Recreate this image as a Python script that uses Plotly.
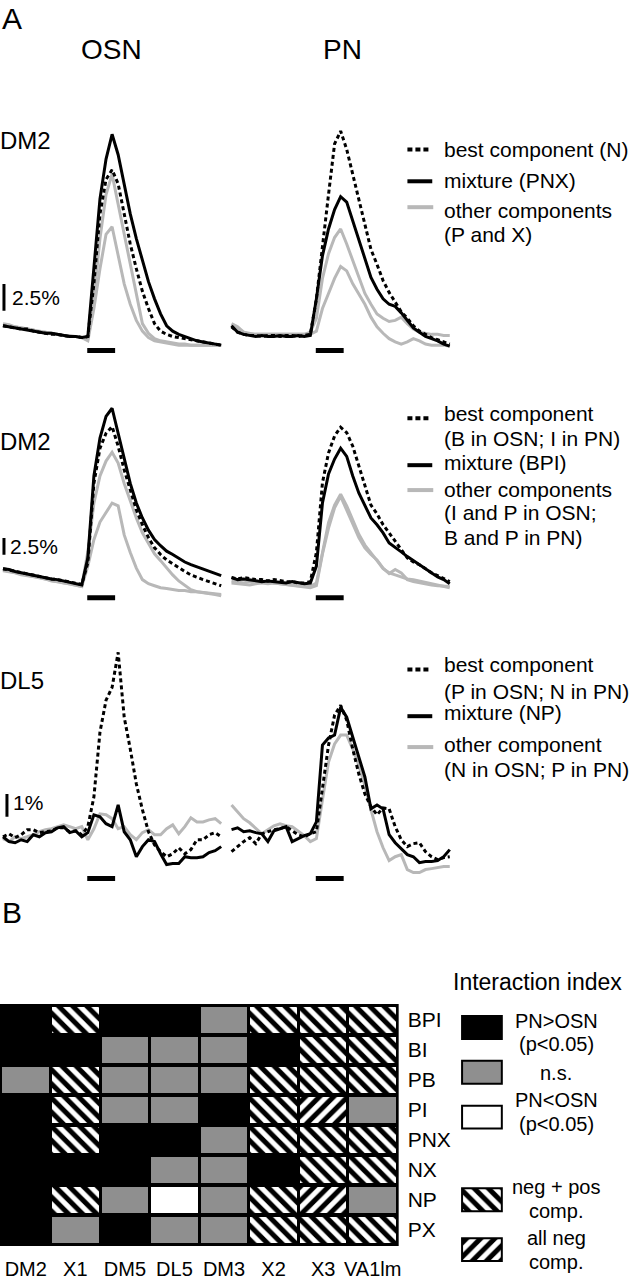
import plotly.graph_objects as go

W, H = 635, 1280
FONT = "Liberation Sans, Arial, Helvetica, sans-serif"

# ---------------- DATA ----------------
frames = list(range(37))          # imaging frames
stim_on, stim_off = 13.9, 18.5    # odor stimulus (frames)
scale_pct = [2.5, 2.5, 1.0]       # scale bars per row (% dF/F)

# Row 1: DM2, mixture PNX
osn1_mix = [1.2,1.1,1.0,0.9,0.8,0.7,0.6,0.5,0.5,0.4,0.3,0.2,0.2,0.1, 0.2,6.5,13.0,16.7,19.0, 17.1,14.4,11.6,9.3,7.2, 5.3,3.7,2.3,1.2,0.7, 0.4,0.2,0.0,-0.2,-0.3, -0.4,-0.5,-0.6]
osn1_best = [1.2,1.1,1.0,0.9,0.9,0.7,0.6,0.5,0.4,0.4,0.3,0.2,0.2,0.1, 0.2,5.1,11.6,14.8,15.7, 14.4,11.6,8.8,6.5,4.4, 2.8,1.4,0.7,0.4,0.2, 0.1,0.0,-0.1,-0.2,-0.3, -0.4,-0.5,-0.6]
osn1_oth1 = [1.4,1.3,1.1,1.0,0.9,0.8,0.6,0.6,0.5,0.4,0.3,0.2,0.2,0.1, 0.0,3.7,9.3,13.4,15.3, 12.5,9.7,7.2,4.2,1.4, 0.5,0.0,-0.2,-0.3,-0.4, -0.5,-0.5,-0.6,-0.6,-0.6, -0.6,-0.6,-0.6]
osn1_oth2 = [1.3,1.2,1.1,1.0,0.9,0.8,0.7,0.6,0.5,0.4,0.3,0.3,0.2,0.1, -0.2,2.8,6.5,9.7,10.4, 7.9,5.1,3.2,1.7,0.7, 0.1,-0.2,-0.3,-0.4,-0.5, -0.6,-0.6,-0.6,-0.6,-0.6, -0.6,-0.6,-0.6]
pn1_best = [1.1,0.6,0.4,0.3,0.3,0.2,0.3,0.3,0.2,0.3,0.3,0.2,0.3,0.4, 3.7,8.3,13.4,18.1,19.3, 17.6,15.3,13.0,10.6,8.3, 6.9,5.4,4.3,3.4,2.5, 1.9,1.2,0.7,0.4,0.1, -0.1,-0.3,-0.5]
pn1_mix = [1.2,0.6,0.4,0.3,0.2,0.3,0.2,0.2,0.3,0.2,0.2,0.3,0.2,0.3, 3.7,7.7,10.2,12.0,13.2, 12.7,10.9,9.1,7.4,5.7, 4.6,3.7,3.2,3.0,2.4, 1.7,1.0,0.6,0.2,0.0, -0.2,-0.5,-0.7]
pn1_oth1 = [1.4,1.1,0.6,0.5,0.4,0.4,0.4,0.4,0.4,0.4,0.4,0.4,0.4,0.6, 1.9,5.6,7.9,9.4,10.2, 8.8,7.2,5.6,4.2,3.2, 2.3,1.9,1.6,1.7,2.0, 1.4,0.9,0.6,0.5,0.4, 0.4,0.3,0.3]
pn1_oth2 = [1.3,0.9,0.6,0.4,0.4,0.4,0.4,0.4,0.4,0.4,0.4,0.4,0.4,0.4, 0.7,2.8,4.2,5.6,6.7, 6.3,5.1,4.2,3.2,2.0, 1.1,0.5,0.0,-0.3,-0.5, -0.3,0.0,-0.2,-0.5,-0.6, -0.6,-0.6,-0.7]

# Row 2: DM2, mixture BPI
osn2_mix = [2.5,2.4,2.1,1.9,1.8,1.6,1.3,1.2,1.0,0.9,0.7,0.4,0.3,0.1, 4.1,16.2,21.8,25.0,26.2, 22.5,18.5,15.1,12.2,10.0, 8.2,6.8,5.9,5.1,4.6, 4.0,3.5,3.1,2.8,2.5, 2.2,1.9,1.5]
osn2_best = [2.5,2.3,2.1,2.0,1.8,1.6,1.4,1.2,1.0,0.9,0.7,0.5,0.3,0.2, 3.4,15.1,20.3,22.5,23.5, 20.6,17.1,14.0,11.2,9.0, 7.1,5.6,4.6,3.8,3.2, 2.6,2.1,1.6,1.2,0.9, 0.6,0.3,0.0]
osn2_oth1 = [2.2,2.1,1.9,1.6,1.5,1.3,1.2,1.0,0.7,0.6,0.4,0.3,0.0,-0.1, 5.0,12.2,16.2,18.4,19.7, 18.1,15.1,12.5,10.0,7.8, 6.2,4.7,3.7,2.6,1.6, 0.7,0.0,-0.6,-0.9,-1.0, -1.2,-1.3,-1.3]
osn2_oth2 = [2.3,2.1,1.9,1.7,1.5,1.3,1.2,1.0,0.8,0.6,0.4,0.3,0.1,-0.1, 2.9,6.8,9.4,10.9,12.2, 11.8,7.5,4.9,2.6,0.9, 0.3,0.0,-0.3,-0.4,-0.6, -0.7,-0.7,-0.9,-0.9,-1.0, -1.2,-1.3,-1.5]
pn2_best = [1.2,1.0,1.2,1.0,0.9,0.9,0.7,0.9,0.7,0.6,0.6,0.4,0.4,0.6, 4.9,15.2,19.6,22.1,23.4, 22.6,20.6,17.8,14.9,11.9, 10.6,9.0,7.8,6.6,5.3, 4.1,3.5,3.1,2.5,1.9, 1.5,1.0,0.6]
pn2_mix = [1.2,0.9,1.0,0.9,0.7,0.6,0.7,0.6,0.4,0.4,0.6,0.4,0.3,0.4, 2.9,12.2,16.5,18.7,20.3, 19.1,16.2,13.7,11.8,10.0, 9.0,7.8,6.3,5.7,5.0, 4.3,3.7,3.1,2.5,1.9, 1.3,0.9,0.3]
pn2_oth1 = [0.7,0.6,0.4,0.6,0.4,0.4,0.3,0.4,0.3,0.1,0.1,0.0,0.0,-0.1, 0.4,5.1,9.3,11.9,13.5, 11.8,9.6,7.6,6.0,4.9, 3.7,2.5,1.9,1.6,1.3, 1.0,0.9,0.7,0.4,0.3, 0.1,-0.1,-0.3]
pn2_oth2 = [0.4,0.3,0.3,0.1,0.3,0.4,0.6,0.4,0.3,0.1,0.0,0.0,-0.1,-0.3, 0.0,4.7,8.5,11.5,13.2, 11.2,9.0,7.1,5.6,4.6, 3.8,2.6,1.8,2.4,1.9, 0.9,0.6,0.4,0.3,0.1, 0.0,0.0,-0.1]

# Row 3: DL5, mixture NP
osn3_mix = [-0.22,-0.43,-0.48,-0.35,-0.43,-0.13,-0.22,-0.04,0.0,0.17,0.22,-0.04,0.04,-0.22, -0.04,0.74,0.65,0.35,0.22, 1.17,0.0,-0.35,-1.09,-0.65, -0.35,-0.43,-0.96,-1.43,-1.39, -1.39,-1.09,-1.13,-1.13,-1.09, -0.91,-0.83,-0.65]
osn3_best = [-0.22,-0.09,-0.26,-0.13,0.09,0.09,-0.04,0.0,0.04,0.17,0.17,0.0,0.04,-0.13, 0.22,1.52,4.35,5.74,6.3, 7.83,5.0,3.61,2.09,0.96, 0.0,-0.57,-0.87,-1.09,-0.96, -0.70,-0.96,-0.78,-0.35,-0.35, -0.13,-0.04,-0.22]
osn3_oth = [-0.30,-0.43,-0.22,-0.30,-0.22,-0.13,0.0,0.09,0.13,0.22,0.30,0.22,0.13,0.22, -0.35,0.13,0.78,0.74,0.57, 0.13,0.22,-0.13,-0.35,-0.04, 0.09,-0.13,-0.13,0.13,0.30, -0.09,0.22,0.61,0.43,0.43, 0.52,0.57,0.35]
pn3_mix = [0.09,0.17,0.0,0.04,-0.04,-0.09,-0.43,0.04,0.13,0.22,-0.43,-0.30,-0.17,-0.09, 0.43,3.78,4.09,4.22,5.43, 5.0,4.13,3.17,2.39,1.0, 1.17,1.0,-0.13,-0.48,-0.74, -1.0,-1.09,-1.35,-1.30,-1.30, -1.26,-1.09,-0.78]
pn3_best = [-0.87,-0.65,-0.43,-0.26,-0.52,-0.09,0.0,0.09,0.13,0.22,0.04,-0.13,-0.22,-0.09, 0.0,1.96,3.78,5.09,5.52, 4.87,3.61,2.52,1.65,1.09, 0.74,1.04,1.0,0.22,-0.35, -0.65,-0.52,-0.48,-0.87,-1.09, -1.22,-1.13,-1.09]
pn3_oth = [1.17,0.87,0.57,0.39,0.17,-0.09,0.09,0.26,0.35,0.26,0.22,0.04,-0.17,-0.43, -0.30,1.39,3.04,3.83,4.22, 4.22,3.61,2.91,2.0,0.96, 0.0,-0.70,-1.26,-1.09,-1.0, -1.65,-1.78,-1.78,-1.65,-1.61, -1.57,-1.52,-1.52]

row_glom = ["DM2", "DM2", "DL5"]
legend_text = [
    ["best component (N)", "mixture (PNX)", "other components", "(P and X)"],
    ["best component", "(B in OSN; I in PN)", "mixture (BPI)", "other components", "(I and P in OSN;", "B and P in PN)"],
    ["best component", "(P in OSN; N in PN)", "mixture (NP)", "other component", "(N in OSN; P in PN)"],
]

# Panel B: interaction index
glomeruli = ["DM2", "X1", "DM5", "DL5", "DM3", "X2", "X3", "VA1lm"]
mixtures = ["BPI", "BI", "PB", "PI", "PNX", "NX", "NP", "PX"]
# K: PN>OSN, G: n.s., W: PN<OSN, H: neg + pos comp., N: all neg comp.
interaction = [
    ["K", "H", "K", "K", "G", "H", "H", "H"],
    ["K", "K", "G", "G", "G", "K", "H", "H"],
    ["G", "H", "G", "G", "G", "H", "H", "H"],
    ["K", "H", "G", "G", "K", "H", "N", "G"],
    ["K", "H", "K", "K", "G", "H", "H", "H"],
    ["K", "K", "K", "G", "G", "K", "H", "H"],
    ["K", "H", "G", "W", "G", "H", "N", "G"],
    ["K", "G", "K", "G", "G", "H", "H", "H"],
]
legend_codes = ["K", "G", "W", "H", "N"]
legend_labels = [["PN>OSN", "(p<0.05)"], ["n.s."], ["PN<OSN", "(p<0.05)"], ["neg + pos", "comp."], ["all neg", "comp."]]

# ---------------- STYLE / LAYOUT ----------------
GRAY_LINE = "#b8b8b8"
GRAY_CELL = "#8f8f8f"


def py(y):
    return 1 - y / H


def px(x):
    return x / W


# geometry (pixels)
col_px = [(0, 230), (230, 460)]
frame_px = 6.1
first_px = 3.0
rows_geo = [
    dict(top=120, bot=360, zero=340, s=10.8, bar=352, sb_bot=312, sb_x=4, sb_lab=(10, 299)),
    dict(top=395, bot=610, zero=588, s=6.8, bar=600, sb_bot=557, sb_x=4, sb_lab=(8, 549)),
    dict(top=640, bot=890, zero=835, s=23.0, bar=882, sb_bot=820, sb_x=7, sb_lab=(11, 806)),
]
glom_lab_y = [141, 443, 683]
legend_line_y = [
    [150, 182, 208],
    [420, 467, 492],
    [672, 719, 750],
]
legend_text_y = [
    [150, 181, 211, 235],
    [415, 440, 464, 491, 515, 540],
    [667, 694, 715, 747, 773],
]

panels = [
    [dict(oth=[osn1_oth1, osn1_oth2], mix=osn1_mix, best=osn1_best),
     dict(oth=[pn1_oth1, pn1_oth2], mix=pn1_mix, best=pn1_best)],
    [dict(oth=[osn2_oth1, osn2_oth2], mix=osn2_mix, best=osn2_best),
     dict(oth=[pn2_oth1, pn2_oth2], mix=pn2_mix, best=pn2_best)],
    [dict(oth=[osn3_oth], mix=osn3_mix, best=osn3_best),
     dict(oth=[pn3_oth], mix=pn3_mix, best=pn3_best)],
]

fig = go.Figure()
layout_axes = {}
shapes = []
annotations = []


def ann(text, x, y, size, xanchor="left"):
    annotations.append(dict(text=text, x=px(x), y=py(y), xref="paper", yref="paper",
                            xanchor=xanchor, yanchor="middle", showarrow=False,
                            font=dict(family=FONT, size=size, color="black")))


xr = [(-first_px) / frame_px, (230 - first_px) / frame_px]

for r, geo in enumerate(rows_geo):
    yr = [(geo["zero"] - geo["bot"]) / geo["s"], (geo["zero"] - geo["top"]) / geo["s"]]
    for c in range(2):
        k = r * 2 + c + 1
        xn = "x" if k == 1 else f"x{k}"
        yn = "y" if k == 1 else f"y{k}"
        layout_axes["xaxis" if k == 1 else f"xaxis{k}"] = dict(
            domain=[px(col_px[c][0]), px(col_px[c][1])], range=xr, visible=False,
            anchor=yn, fixedrange=True)
        layout_axes["yaxis" if k == 1 else f"yaxis{k}"] = dict(
            domain=[py(geo["bot"]), py(geo["top"])], range=yr, visible=False,
            anchor=xn, fixedrange=True)
        p = panels[r][c]
        for o in p["oth"]:
            fig.add_trace(go.Scatter(x=frames, y=o, mode="lines", xaxis=xn, yaxis=yn,
                                     line=dict(color=GRAY_LINE, width=3), showlegend=False,
                                     hoverinfo="skip"))
        fig.add_trace(go.Scatter(x=frames, y=p["mix"], mode="lines", xaxis=xn, yaxis=yn,
                                 line=dict(color="black", width=3), showlegend=False,
                                 hoverinfo="skip"))
        fig.add_trace(go.Scatter(x=frames, y=p["best"], mode="lines", xaxis=xn, yaxis=yn,
                                 line=dict(color="black", width=3, dash="4px,3px"),
                                 showlegend=False, hoverinfo="skip"))
        # stimulus bar
        ybar = (geo["zero"] - geo["bar"]) / geo["s"]
        shapes.append(dict(type="line", xref=xn, yref=yn, x0=stim_on, x1=stim_off,
                           y0=ybar, y1=ybar, line=dict(color="black", width=5)))
        if c == 0:
            y0 = (geo["zero"] - geo["sb_bot"]) / geo["s"]
            xs = (geo["sb_x"] - first_px) / frame_px
            shapes.append(dict(type="line", xref=xn, yref=yn, x0=xs, x1=xs,
                               y0=y0, y1=y0 + scale_pct[r], line=dict(color="black", width=3)))
    lab = ("%g" % scale_pct[r]) + "%"
    ann(lab, geo["sb_lab"][0], geo["sb_lab"][1], 21)
    ann(row_glom[r], -2, glom_lab_y[r], 24)
    # legend samples
    ly = legend_line_y[r]
    shapes.append(dict(type="line", xref="paper", yref="paper", x0=px(410), x1=px(434),
                       y0=py(ly[0]), y1=py(ly[0]), line=dict(color="black", width=4, dash="5px,3px")))
    shapes.append(dict(type="line", xref="paper", yref="paper", x0=px(410), x1=px(435),
                       y0=py(ly[1]), y1=py(ly[1]), line=dict(color="black", width=4)))
    shapes.append(dict(type="line", xref="paper", yref="paper", x0=px(410), x1=px(436),
                       y0=py(ly[2]), y1=py(ly[2]), line=dict(color=GRAY_LINE, width=4)))
    for t, yy in zip(legend_text[r], legend_text_y[r]):
        ann(t, 445, yy, 21)

ann("A", 0, 19, 30)
ann("OSN", 112, 50, 28, "center")
ann("PN", 345, 50, 28, "center")
ann("B", 0, 916, 30)

# ---------------- Panel B grid ----------------
CW, CH = 0.94, 0.86
HATCH = dict(fgcolor="black", bgcolor="white", fgopacity=1, size=10, solidity=0.5,
             fillmode="overlay")
style = {
    "K": dict(color="black"),
    "G": dict(color=GRAY_CELL),
    "W": dict(color="white"),
    "H": dict(color="white", pattern=dict(shape="\\", **HATCH)),
    "N": dict(color="white", pattern=dict(shape="/", **HATCH)),
}
for code in ["G", "W", "H", "N"]:
    xs, bases = [], []
    for ri, row in enumerate(interaction):
        for ci, v in enumerate(row):
            if v == code:
                xs.append(ci)
                bases.append(ri - CH / 2)
    if xs:
        fig.add_trace(go.Bar(x=xs, y=[CH] * len(xs), base=bases, width=[CW] * len(xs),
                             xaxis="x7", yaxis="y7", marker=dict(line=dict(width=0), **style[code]),
                             showlegend=False, hoverinfo="skip"))

layout_axes["xaxis7"] = dict(domain=[px(1), px(400)], range=[-0.5, 7.5], anchor="y7",
                             tickmode="array", tickvals=list(range(8)), ticktext=glomeruli,
                             tickangle=0, ticks="outside", ticklen=6, tickcolor="rgba(0,0,0,0)",
                             tickfont=dict(family=FONT, size=20, color="black"),
                             showgrid=False, zeroline=False, showline=False, fixedrange=True)
layout_axes["yaxis7"] = dict(domain=[py(1250), py(1009)], range=[7.5, -0.5], anchor="x7",
                             side="right", tickmode="array", tickvals=list(range(8)),
                             ticktext=mixtures, ticks="outside", ticklen=5,
                             tickcolor="rgba(0,0,0,0)",
                             tickfont=dict(family=FONT, size=21, color="black"),
                             showgrid=False, zeroline=False, showline=False, fixedrange=True)
shapes.append(dict(type="rect", xref="x7 domain", yref="y7 domain", x0=-0.003, x1=1.003,
                   y0=-0.004, y1=1.004, fillcolor="black", line=dict(width=0), layer="below"))

# ---------------- Panel B legend ----------------
sw_top = [1020, 1065, 1110, 1193, 1243]
sw_h = 23
text_y = [[1025, 1048], [1077], [1104, 1128], [1192, 1216], [1243, 1267]]
for code, top in zip(legend_codes, sw_top):
    fig.add_trace(go.Bar(x=[0.5], y=[sw_h], base=[top], width=[1.0], xaxis="x8", yaxis="y8",
                         marker=dict(line=dict(width=2, color="black"), **style[code]),
                         showlegend=False, hoverinfo="skip"))
layout_axes["xaxis8"] = dict(domain=[px(463), px(507)], range=[-0.05, 1.05], visible=False,
                             anchor="y8", fixedrange=True)
layout_axes["yaxis8"] = dict(domain=[py(1280), py(980)], range=[1280, 980], visible=False,
                             anchor="x8", fixedrange=True)
for labs, ys in zip(legend_labels, text_y):
    for t, yy in zip(labs, ys):
        ann(t, 560, yy, 20, "center")
ann("Interaction index", 541, 986, 23, "center")

fig.update_layout(width=W, height=H, margin=dict(l=0, r=0, t=0, b=0),
                  paper_bgcolor="white", plot_bgcolor="white", barmode="overlay",
                  bargap=0, shapes=shapes, annotations=annotations, showlegend=False,
                  **layout_axes)
fig.write_html("out.html", config={"displayModeBar": False, "staticPlot": True},
               post_script="document.body.style.margin='0px';document.body.style.overflow='hidden';")
